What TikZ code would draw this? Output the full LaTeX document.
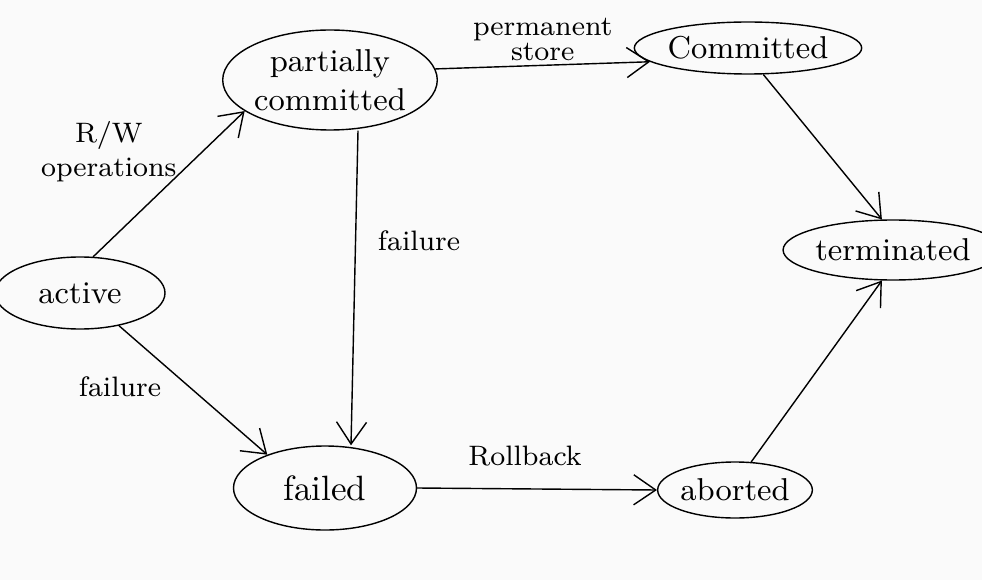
\documentclass[tikz,border=0pt]{standalone}
\usepackage{tikz}
\usetikzlibrary{positioning,arrows.meta,shapes.geometric}

\begin{document}
\begin{tikzpicture}[font=\small,>={Straight Barb[length=2.2mm,width=3mm]}]
  \tikzstyle{st}=[draw,ellipse,inner sep=0pt,align=center]
  \tikzstyle{lbl}=[font=\footnotesize,align=center]
  \useasboundingbox[fill=gray!4] (0,0) rectangle (9.82,5.80);
  % states
  \node[st,minimum width=1.70cm,minimum height=0.72cm] (act) at (0.80,2.87) {active};
  \node[st,minimum width=2.04cm,minimum height=1.00cm] (pc) at (3.30,5.00) {partially\\committed};
  \node[st,minimum width=1.40cm,minimum height=0.52cm] (com) at (7.48,5.32) {Committed};
  \node[st,minimum width=1.70cm,minimum height=0.60cm] (term) at (8.93,3.30) {terminated};
  \node[st,minimum width=1.83cm,minimum height=0.84cm,font=\normalsize] (fail) at (3.25,0.92) {failed};
  \node[st,minimum width=1.40cm,minimum height=0.56cm] (abt) at (7.35,0.90) {aborted};
  % transitions
  \draw[->] (act.70) -- (pc.200) node[lbl,pos=0.5,above left=-1mm and -2mm] {R/W\\operations};
  \draw[->] (act.-40) -- (fail.150) node[lbl,pos=0.3,below left=0mm and -1mm] {failure};
  \draw[->] ([xshift=2.8mm]pc.south) -- ([xshift=2.6mm]fail.north) node[lbl,pos=0.35,right=1mm] {failure};
  \draw[->] (pc.6) -- (com.188) node[lbl,midway,above=0mm,inner sep=1pt] {permanent\\[-0.8mm]store};
  \draw[->] (com.-60) -- (term.110);
  \draw[->] (fail.east) -- (abt.west) node[lbl,pos=0.45,above=1mm] {Rollback};
  \draw[->] (abt.60) -- (term.-110);
\end{tikzpicture}
\end{document}
